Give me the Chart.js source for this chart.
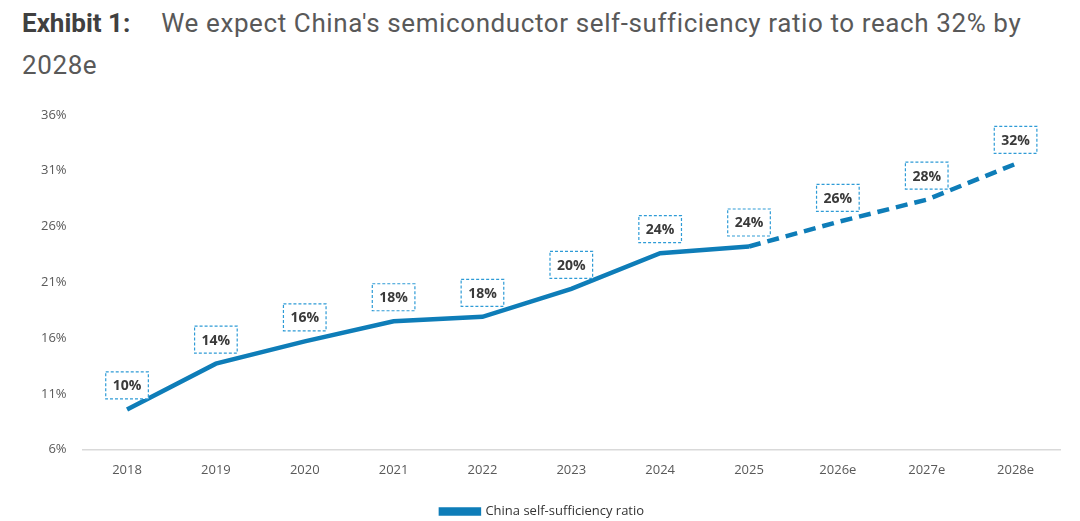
<!DOCTYPE html>
<html>
<head>
<meta charset="utf-8">
<script src="https://cdn.jsdelivr.net/npm/chart.js@4"></script>
<style>
  body { margin: 0; background: #fff; font-family: Roboto, sans-serif; overflow: hidden; }
  .title { position: absolute; left: 22px; top: 2px; width: 1040px; font-size: 26px; line-height: 42px; color: #595959; letter-spacing: 0.6px; }
  .title b { color: #404040; margin-right: 31px; letter-spacing: 0; }
  .wrap { position: absolute; left: 0; top: 91px; width: 1080px; height: 440px; }
</style>
</head>
<body>
<div class="title"><b>Exhibit 1:</b>We expect China's semiconductor self-sufficiency ratio to reach 32% by 2028e</div>
<div class="wrap"><canvas id="ratioChart"></canvas></div>
<script>
// Categories and values
const years = ['2018', '2019', '2020', '2021', '2022', '2023', '2024', '2025', '2026e', '2027e', '2028e'];
const ratio = [9.6, 13.7, 15.7, 17.5, 17.9, 20.4, 23.6, 24.2, 26.4, 28.4, 31.6];
const yTicks = [6, 11, 16, 21, 26, 31, 36];
const firstEstimate = 7; // line turns dashed after 2025

const blue = '#0E7DB8';

// dashed boxes with the value above each point
const boxLabels = {
  id: 'boxLabels',
  afterDatasetsDraw(chart) {
    const ctx = chart.ctx;
    const meta = chart.getDatasetMeta(0);
    ctx.save();
    ctx.font = 'bold 14px "Open Sans", sans-serif';
    ctx.textAlign = 'center';
    ctx.textBaseline = 'middle';
    meta.data.forEach((pt, i) => {
      const txt = Math.round(ratio[i]) + '%';
      const w = ctx.measureText(txt).width + 14;
      const h = 27;
      const cx = pt.x, cy = pt.y - 24;
      ctx.fillStyle = '#fff';
      ctx.fillRect(cx - w / 2, cy - h / 2, w, h);
      ctx.setLineDash([3, 2]);
      ctx.lineWidth = 1.2;
      ctx.strokeStyle = '#2E9BD6';
      ctx.strokeRect(cx - w / 2, cy - h / 2, w, h);
      ctx.setLineDash([]);
      ctx.fillStyle = '#3a3a3a';
      ctx.fillText(txt, cx, cy + 1);
    });
    ctx.restore();
  }
};

new Chart(document.getElementById('ratioChart'), {
  type: 'line',
  data: {
    labels: years,
    datasets: [{
      label: 'China self-sufficiency ratio',
      data: ratio,
      borderColor: blue,
      backgroundColor: blue,
      borderWidth: 4.5,
      pointRadius: 0,
      tension: 0,
      segment: {
        borderDash: c => c.p0DataIndex >= firstEstimate ? [12, 7] : undefined
      }
    }]
  },
  options: {
    responsive: true,
    maintainAspectRatio: false,
    animation: false,
    layout: { padding: { left: 25, right: 20, top: 10, bottom: 3 } },
    plugins: {
      legend: {
        position: 'bottom',
        title: { display: true, text: '', font: { size: 4 }, padding: 0 },
        labels: {
          boxWidth: 38,
          boxHeight: 4,
          color: '#333',
          font: { family: '"Open Sans", sans-serif', size: 13 },
          padding: 9
        }
      },
      tooltip: { enabled: false }
    },
    scales: {
      x: {
        offset: true,
        grid: { display: false, drawTicks: false },
        border: { display: true, color: '#d9d9d9', width: 1.5 },
        ticks: { color: '#595959', padding: 13, font: { family: '"Open Sans", sans-serif', size: 13 } }
      },
      y: {
        min: 6,
        max: 36,
        afterBuildTicks: s => { s.ticks = yTicks.map(v => ({ value: v })); },
        grid: { display: false, drawTicks: false },
        border: { display: false },
        ticks: {
          color: '#595959',
          padding: 16,
          font: { family: '"Open Sans", sans-serif', size: 13 },
          callback: v => v + '%'
        }
      }
    }
  },
  plugins: [boxLabels]
});
</script>
</body>
</html>
